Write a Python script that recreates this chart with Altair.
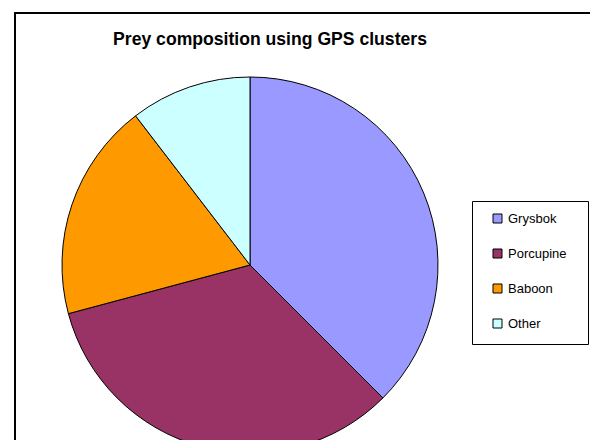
import altair as alt
import pandas as pd

prey = ["Grysbok", "Porcupine", "Baboon", "Other"]
counts = [18, 16, 9, 5]
colors = ["#9999FF", "#993366", "#FF9900", "#CCFFFF"]
title_text = "Prey composition using GPS clusters"

df = pd.DataFrame({"prey": prey, "count": counts, "idx": list(range(len(prey)))})

frame = alt.Chart(pd.DataFrame({"a": [0]})).mark_rect(
    fill="white", stroke="black", strokeWidth=2
).encode(x=alt.value(7), y=alt.value(5), x2=alt.value(900), y2=alt.value(900))

legend_box = alt.Chart(pd.DataFrame({"a": [0]})).mark_rect(
    fill="white", stroke="black", strokeWidth=1
).encode(x=alt.value(464.5), y=alt.value(193.5), x2=alt.value(580.5), y2=alt.value(336.5))

pie = alt.Chart(df).mark_arc(radius=188, stroke="black", strokeWidth=1).encode(
    theta=alt.Theta("count:Q", stack=True),
    order=alt.Order("idx:Q"),
    color=alt.Color(
        "prey:N",
        scale=alt.Scale(domain=prey, range=colors),
        sort=prey,
        legend=alt.Legend(
            title=None,
            orient="none",
            legendX=483,
            legendY=204,
            padding=0,
            symbolType="square",
            symbolSize=81,
            symbolStrokeColor="black",
            symbolStrokeWidth=1,
            labelFont="Liberation Sans",
            labelFontSize=13,
            labelColor="black",
            labelOffset=4,
            rowPadding=21,
        ),
    ),
    x=alt.value(242),
    y=alt.value(257),
)

title = alt.Chart(pd.DataFrame({"t": [title_text]})).mark_text(
    font="Liberation Sans", fontSize=17.6, fontWeight="bold", color="black",
    align="center", baseline="alphabetic"
).encode(text="t:N", x=alt.value(262), y=alt.value(37))

chart = alt.layer(frame, legend_box, pie, title).properties(
    width=582, height=432, padding=0,
    autosize=alt.AutoSizeParams(type="none"),
).configure_view(stroke=None)

chart.save("out.html", embed_options={"renderer": "svg", "actions": False})
